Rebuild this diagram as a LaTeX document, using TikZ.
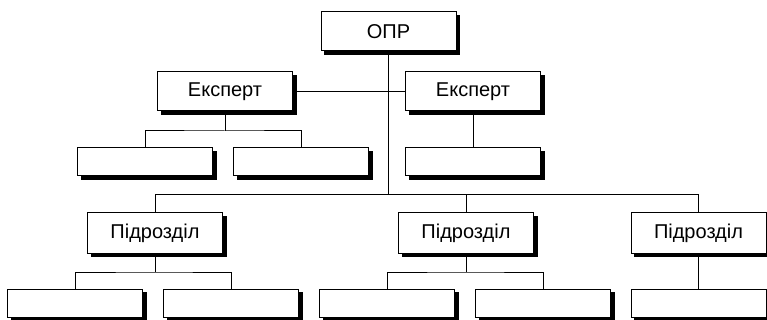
\documentclass[tikz,border=0pt]{standalone}
\usepackage{fontspec}
\setmainfont{Liberation Sans}
\begin{document}
\begin{tikzpicture}[x=1pt,y=-1pt,
  box/.style={draw=black,line width=1pt,fill=white,inner sep=0pt,outer sep=0pt,
    minimum width=135pt,
    preaction={fill=black,draw=black,transform canvas={shift={(3.5pt,-3.5pt)}}},
    font=\fontsize{20}{23}\selectfont},
  big/.style={box,minimum height=39pt},
  small/.style={box,minimum height=28pt},
  conn/.style={draw=black,line width=1pt}]
\useasboundingbox (0,0) rectangle (767,320);
% nodes
\node[big] (opr) at (388.5,31.5) {ОПР};
\node[big] (e1) at (225,91.5) {Експерт};
\node[big] (e2) at (473,91.5) {Експерт};
\node[small] (c11) at (145,162) {};
\node[small] (c12) at (301,162) {};
\node[small] (c21) at (473,162) {};
\node[big,minimum height=40pt] (p1) at (155,233) {Підрозділ};
\node[big,minimum height=40pt] (p2) at (466,233) {Підрозділ};
\node[big,minimum height=40pt] (p3) at (698.5,233) {Підрозділ};
\node[small] (d11) at (75,303) {};
\node[small] (d12) at (231,303) {};
\node[small] (d21) at (387,303) {};
\node[small] (d22) at (543,303) {};
\node[small] (d31) at (698.5,303) {};
% junctions
\coordinate (b) at (388.5,195);
\coordinate (j1) at (225,131);
\coordinate (k1) at (155,272);
\coordinate (k2) at (466,272);
% connectors
\draw[conn] (opr.south) -- (b);
\draw[conn] (e1.east) -- (e2.west);
\draw[conn] (p1.north) -- (p1.north |- b) -- (p3.north |- b) -- (p3.north);
\draw[conn] (p2.north) -- (p2.north |- b);
\draw[conn] (e1.south) -- (j1);
\draw[conn] (c11.north) |- (j1) -| (c12.north);
\draw[conn] (e2.south) -- (c21.north);
\draw[conn] (p1.south) -- (k1);
\draw[conn] (d11.north) |- (k1) -| (d12.north);
\draw[conn] (p2.south) -- (k2);
\draw[conn] (d21.north) |- (k2) -| (d22.north);
\draw[conn] (p3.south) -- (d31.north);
\end{tikzpicture}
\end{document}
